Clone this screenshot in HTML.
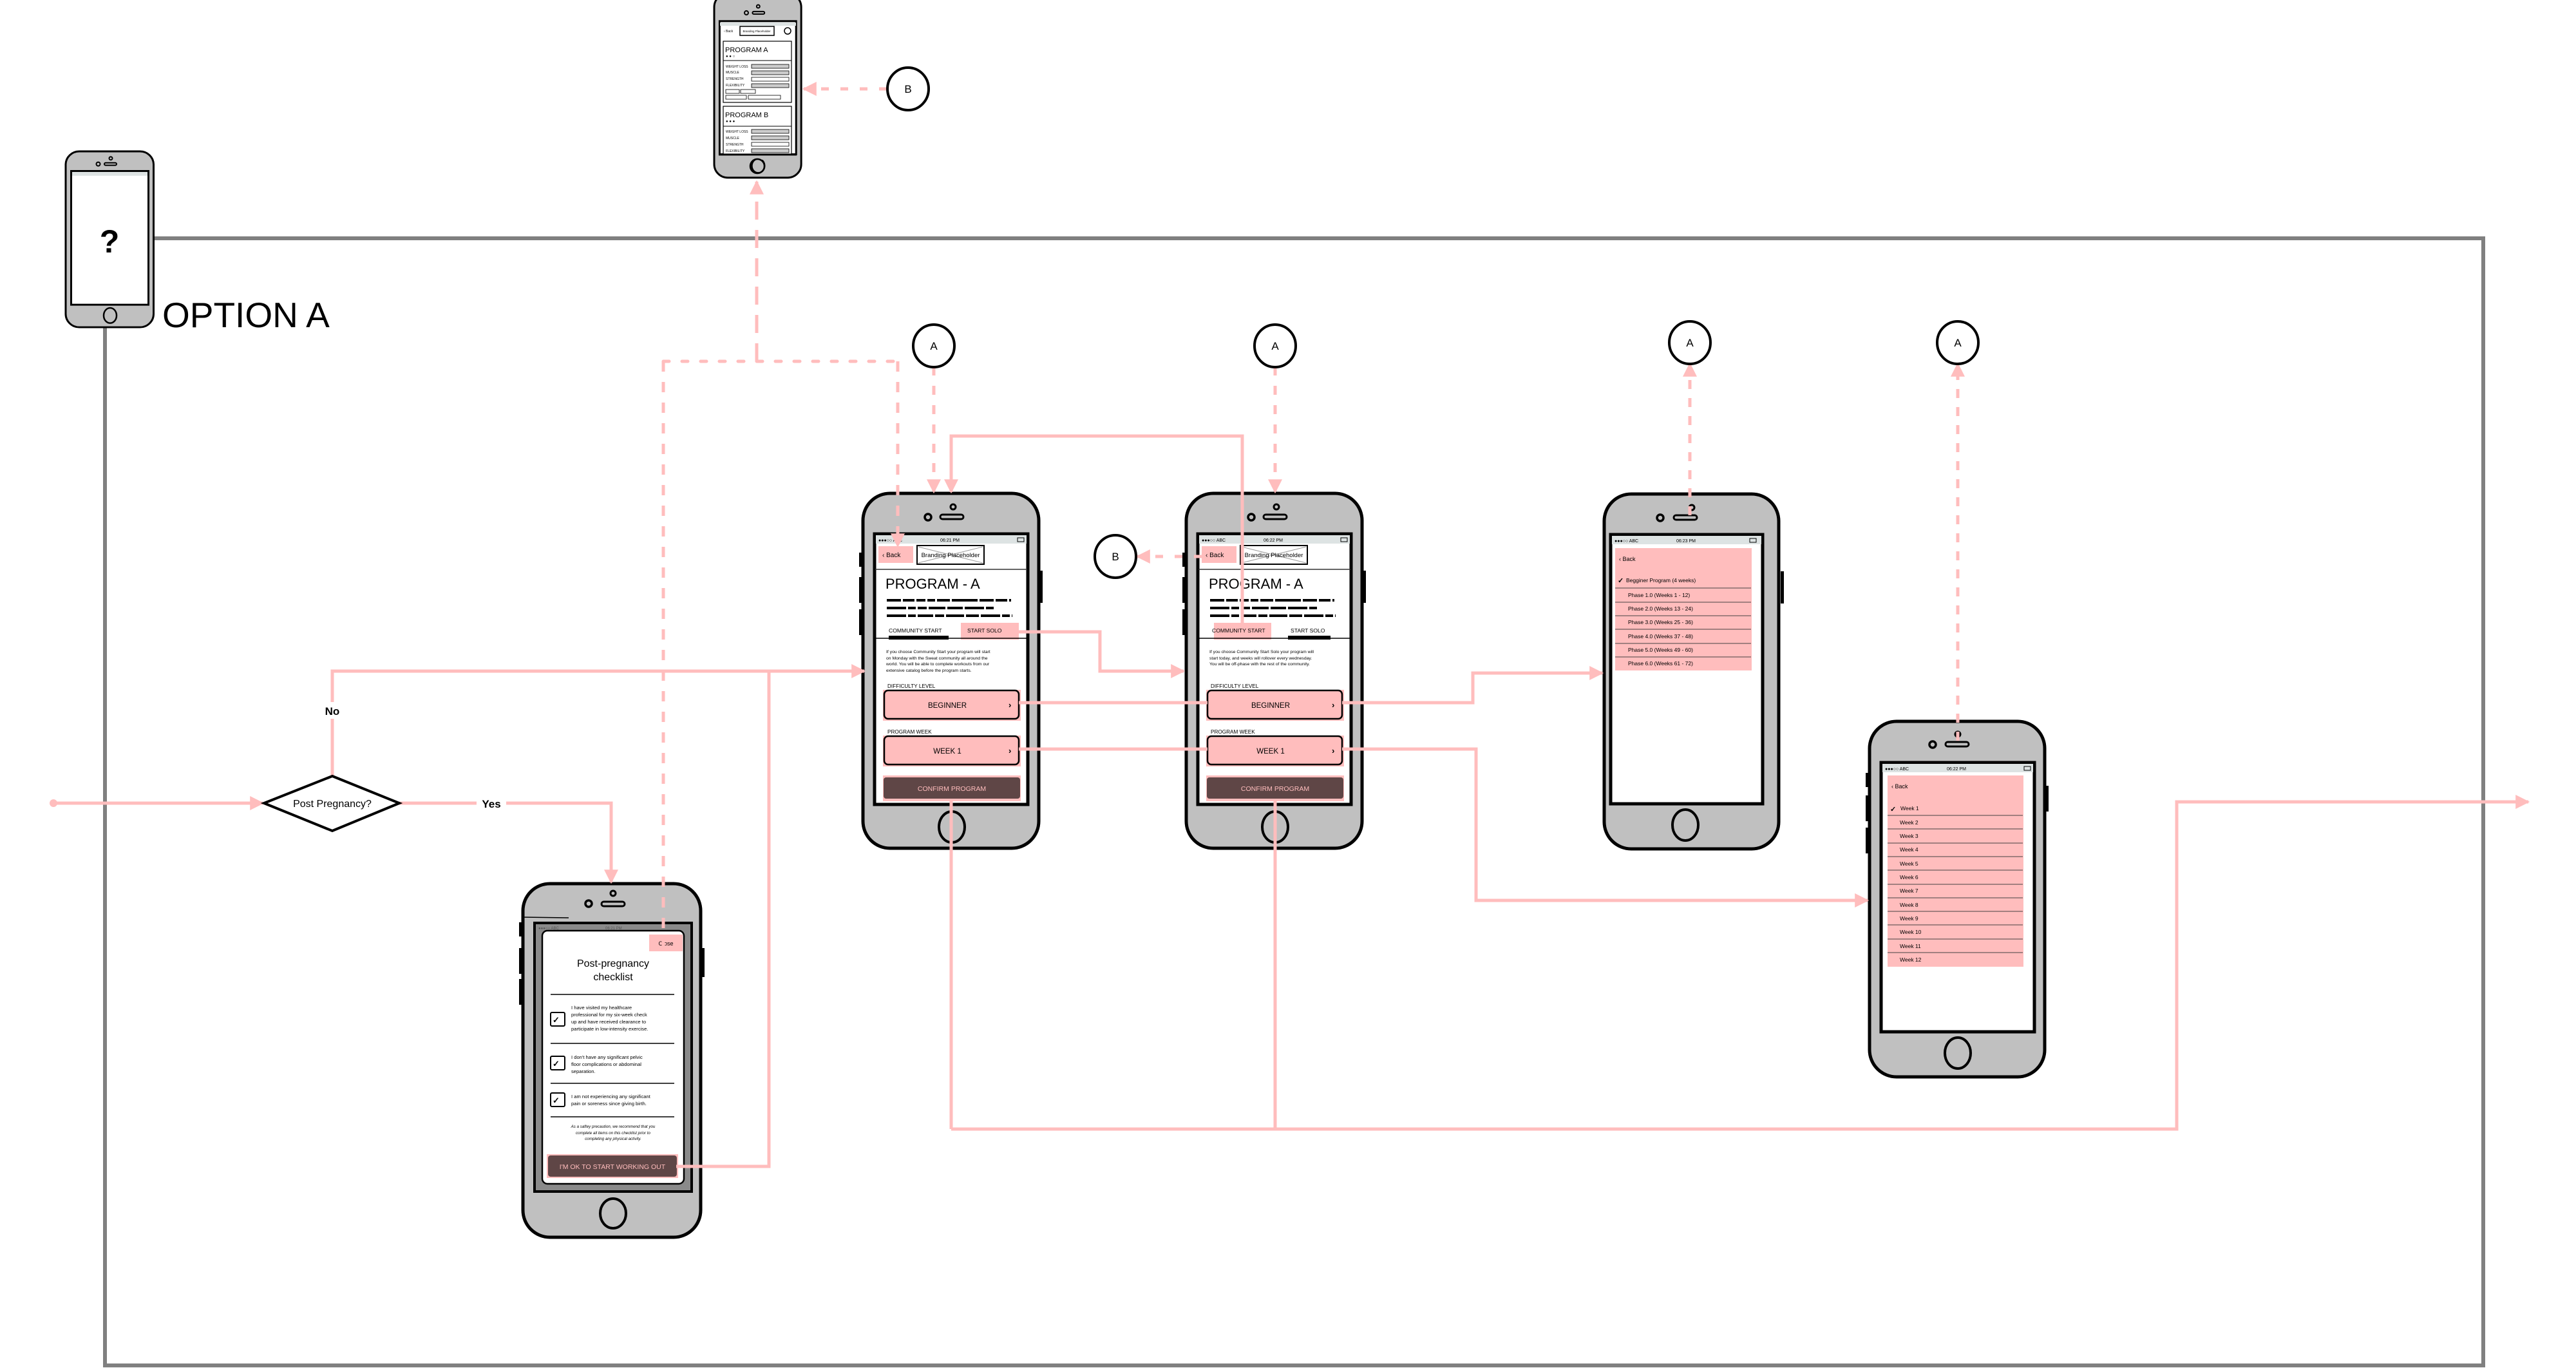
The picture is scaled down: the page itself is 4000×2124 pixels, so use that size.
<!DOCTYPE html>
<html><head><meta charset="utf-8"><style>
html,body{margin:0;padding:0;background:#fff;}
svg{display:block;font-family:"Liberation Sans",sans-serif;}
</style></head><body>
<svg width="4000" height="2124" viewBox="0 0 4000 2124" xmlns="http://www.w3.org/2000/svg">
<defs>
<marker id="ah" viewBox="0 0 10 10" refX="9" refY="5" markerWidth="28" markerHeight="22" markerUnits="userSpaceOnUse" orient="auto"><path d="M0,0 L10,5 L0,10 z" fill="#ffbdbd"/></marker>
</defs>
<rect width="4000" height="2124" fill="#fff"/>

<!-- frame -->
<polyline points="238,370 3856,370 3856,2120 163,2120 163,508" fill="none" stroke="#808080" stroke-width="6"/>
<text x="252" y="508" font-size="55">OPTION A</text>

<!-- top-left phone -->
<g transform="translate(102,235) scale(0.5,0.492)">
<rect x="0" y="0" width="273" height="555" rx="42" fill="#c0c0c0" stroke="#000" stroke-width="6"/>
<circle cx="140" cy="22" r="5" fill="none" stroke="#000" stroke-width="4"/>
<circle cx="101" cy="40" r="6" fill="none" stroke="#000" stroke-width="4"/>
<rect x="120" y="36" width="38" height="8" rx="4" fill="none" stroke="#000" stroke-width="4"/>
<rect x="17" y="62" width="240" height="422" fill="#fff" stroke="#000" stroke-width="6"/>
<rect x="20" y="65" width="234" height="12" fill="#dde3e3"/>
<ellipse cx="138" cy="518" rx="20" ry="24" fill="none" stroke="#000" stroke-width="5"/>
</g>
<text x="170" y="392" font-size="50" font-weight="bold" text-anchor="middle">?</text>

<!-- top phone -->
<g transform="translate(1109,0) scale(0.495,0.497)">
<rect x="0" y="-20" width="273" height="575" rx="42" fill="#c0c0c0" stroke="#000" stroke-width="6"/>
<circle cx="138" cy="20" r="5" fill="none" stroke="#000" stroke-width="4"/>
<circle cx="101" cy="40" r="6" fill="none" stroke="#000" stroke-width="4"/>
<rect x="120" y="36" width="38" height="8" rx="4" fill="none" stroke="#000" stroke-width="4"/>
<rect x="17" y="66" width="240" height="416" fill="#fff" stroke="#000" stroke-width="6"/>
<ellipse cx="138" cy="518" rx="20" ry="22" fill="none" stroke="#000" stroke-width="5"/>
</g>
<g font-size="5">
<rect x="1118" y="35" width="118" height="5" fill="#dde3e3"/>
<text x="1124" y="50">‹ Back</text>
<rect x="1149" y="41" width="53" height="14" fill="#fff" stroke="#000" stroke-width="1.5"/>
<text x="1175" y="50" text-anchor="middle" font-size="4.5">Branding Placeholder</text>
<circle cx="1223" cy="48" r="5" fill="#fff" stroke="#000" stroke-width="1.5"/>
<rect x="1123" y="64" width="106" height="95" fill="#fff" stroke="#000" stroke-width="1.2"/>
<text x="1126" y="81" font-size="11">PROGRAM A</text>
<text x="1127" y="89" font-size="6">● ● ○</text>
<line x1="1123" y1="94" x2="1229" y2="94" stroke="#000" stroke-width="1"/>
<text x="1127" y="105">WEIGHT LOSS</text><rect x="1167" y="100" width="58" height="6" fill="#ccc" stroke="#000" stroke-width="0.8"/>
<text x="1127" y="114">MUSCLE</text><rect x="1167" y="110" width="58" height="6" fill="#ccc" stroke="#000" stroke-width="0.8"/>
<text x="1127" y="124">STRENGTH</text><rect x="1167" y="120" width="58" height="6" fill="#fff" stroke="#000" stroke-width="0.8"/>
<text x="1127" y="134">FLEXIBILITY</text><rect x="1167" y="130" width="58" height="6" fill="#ccc" stroke="#000" stroke-width="0.8"/>
<rect x="1127" y="139" width="21" height="6" fill="#fff" stroke="#000" stroke-width="0.8"/><rect x="1150" y="139" width="23" height="6" fill="#fff" stroke="#000" stroke-width="0.8"/>
<rect x="1127" y="148" width="32" height="6" fill="#fff" stroke="#000" stroke-width="0.8"/><rect x="1162" y="148" width="50" height="6" fill="#fff" stroke="#000" stroke-width="0.8"/>
<rect x="1123" y="165" width="106" height="80" fill="#fff" stroke="#000" stroke-width="1.2"/>
<text x="1126" y="182" font-size="11">PROGRAM B</text>
<text x="1127" y="190" font-size="6">● ● ●</text>
<line x1="1123" y1="196" x2="1229" y2="196" stroke="#000" stroke-width="1"/>
<text x="1127" y="206">WEIGHT LOSS</text><rect x="1167" y="201" width="58" height="6" fill="#ccc" stroke="#000" stroke-width="0.8"/>
<text x="1127" y="216">MUSCLE</text><rect x="1167" y="211" width="58" height="6" fill="#ccc" stroke="#000" stroke-width="0.8"/>
<text x="1127" y="226">STRENGTH</text><rect x="1167" y="221" width="58" height="6" fill="#fff" stroke="#000" stroke-width="0.8"/>
<text x="1127" y="236">FLEXIBILITY</text><rect x="1167" y="231" width="58" height="6" fill="#ccc" stroke="#000" stroke-width="0.8"/>
</g>
<rect x="1117" y="240" width="120" height="8" fill="#c0c0c0"/>
<line x1="1116" y1="240" x2="1237" y2="240" stroke="#000" stroke-width="3"/>
<circle cx="1176" cy="258" r="11" fill="none" stroke="#000" stroke-width="2.5"/>

<!-- Phone A -->
<g transform="translate(1340,766)">
<rect x="0" y="0" width="273" height="551" rx="42" fill="#c0c0c0" stroke="#000" stroke-width="5"/>
<rect x="-6" y="92" width="5" height="22" fill="#000"/><rect x="-6" y="130" width="5" height="40" fill="#000"/><rect x="-6" y="180" width="5" height="40" fill="#000"/><rect x="274" y="120" width="5" height="50" fill="#000"/>
<circle cx="140" cy="21" r="4" fill="none" stroke="#000" stroke-width="3"/>
<circle cx="101" cy="37" r="5" fill="none" stroke="#000" stroke-width="3.5"/>
<rect x="120" y="33" width="36" height="7" rx="3.5" fill="none" stroke="#000" stroke-width="3"/>
<rect x="18" y="63" width="238" height="420" fill="#fff" stroke="#000" stroke-width="5"/>
<rect x="20" y="65" width="234" height="13" fill="#dde3e3"/>
<text x="24" y="75" font-size="7">●●●○○ ABC</text><text x="120" y="75" font-size="7">06:21 PM</text><rect x="240" y="69" width="10" height="6" fill="none" stroke="#000"/>
<rect x="24" y="82" width="54" height="26" fill="#ffbdbd"/>
<text x="30" y="99" font-size="10">‹ Back</text>
<rect x="84" y="81" width="104" height="29" fill="#fff" stroke="#000" stroke-width="2"/>
<line x1="86" y1="83" x2="186" y2="108" stroke="#999"/><line x1="86" y1="108" x2="186" y2="83" stroke="#999"/>
<text x="136" y="99" font-size="9.5" text-anchor="middle">Branding Placeholder</text>
<line x1="19" y1="118" x2="255" y2="118" stroke="#333" stroke-width="1.5"/>
<text x="35" y="148" font-size="22">PROGRAM - A</text>
<g stroke="#000" stroke-width="4"><line x1="37" y1="166" x2="230" y2="166" stroke-dasharray="22 3 18 3 14 3 12 3 20 3 40 3"/><line x1="37" y1="178" x2="205" y2="178" stroke-dasharray="30 3 12 3 14 3 26 3 24 3"/><line x1="37" y1="190" x2="232" y2="190" stroke-dasharray="30 3 12 3 24 3 14 3 28 3 20 3"/></g>
<rect x="152" y="201" width="90" height="26" fill="#ffbdbd"/>
<text x="40" y="216" font-size="8.6">COMMUNITY START</text>
<text x="162" y="216" font-size="8.6">START SOLO</text>
<line x1="19" y1="225" x2="255" y2="225" stroke="#000" stroke-width="1.5"/>
<rect x="40" y="221" width="93" height="6" fill="#000"/>
<g font-size="6.8"><text x="36" y="248">If you choose Community Start your program will start</text><text x="36" y="258">on Monday with the Sweat community all around the</text><text x="36" y="267">world. You will be able to complete workouts from our</text><text x="36" y="277">extensive catalog before the program starts.</text></g>
<text x="38" y="302" font-size="8.2">DIFFICULTY LEVEL</text>
<rect x="31" y="305" width="214" height="48" fill="#ffbdbd"/>
<rect x="33" y="306" width="209" height="44" rx="6" fill="#ffbdbd" stroke="#000" stroke-width="2.5"/>
<text x="131" y="333" font-size="11.5" text-anchor="middle">BEGINNER</text><text x="226" y="333" font-size="13" font-weight="bold">›</text>
<text x="38" y="373" font-size="8.2">PROGRAM WEEK</text>
<rect x="31" y="376" width="214" height="48" fill="#ffbdbd"/>
<rect x="33" y="377" width="209" height="44" rx="6" fill="#ffbdbd" stroke="#000" stroke-width="2.5"/>
<text x="131" y="404" font-size="11.5" text-anchor="middle">WEEK 1</text><text x="226" y="404" font-size="13" font-weight="bold">›</text>
<rect x="31" y="438" width="214" height="40" fill="#ffbdbd"/>
<rect x="32" y="441" width="212" height="33" rx="4" fill="#5f4646"/>
<text x="138" y="462" font-size="10.5" text-anchor="middle" fill="#ffbdbd">CONFIRM PROGRAM</text>
<ellipse cx="138" cy="518" rx="20" ry="24" fill="none" stroke="#000" stroke-width="4"/>
</g>

<!-- Phone B -->
<g transform="translate(1842,766)">
<rect x="0" y="0" width="273" height="551" rx="42" fill="#c0c0c0" stroke="#000" stroke-width="5"/>
<rect x="-6" y="92" width="5" height="22" fill="#000"/><rect x="-6" y="130" width="5" height="40" fill="#000"/><rect x="-6" y="180" width="5" height="40" fill="#000"/><rect x="274" y="120" width="5" height="50" fill="#000"/>
<circle cx="140" cy="21" r="4" fill="none" stroke="#000" stroke-width="3"/>
<circle cx="101" cy="37" r="5" fill="none" stroke="#000" stroke-width="3.5"/>
<rect x="120" y="33" width="36" height="7" rx="3.5" fill="none" stroke="#000" stroke-width="3"/>
<rect x="18" y="63" width="238" height="420" fill="#fff" stroke="#000" stroke-width="5"/>
<rect x="20" y="65" width="234" height="13" fill="#dde3e3"/>
<text x="24" y="75" font-size="7">●●●○○ ABC</text><text x="120" y="75" font-size="7">06:22 PM</text><rect x="240" y="69" width="10" height="6" fill="none" stroke="#000"/>
<rect x="24" y="82" width="54" height="26" fill="#ffbdbd"/>
<text x="30" y="99" font-size="10">‹ Back</text>
<rect x="84" y="81" width="104" height="29" fill="#fff" stroke="#000" stroke-width="2"/>
<line x1="86" y1="83" x2="186" y2="108" stroke="#999"/><line x1="86" y1="108" x2="186" y2="83" stroke="#999"/>
<text x="136" y="99" font-size="9.5" text-anchor="middle">Branding Placeholder</text>
<line x1="19" y1="118" x2="255" y2="118" stroke="#333" stroke-width="1.5"/>
<text x="35" y="148" font-size="22">PROGRAM - A</text>
<g stroke="#000" stroke-width="4"><line x1="37" y1="166" x2="230" y2="166" stroke-dasharray="22 3 18 3 14 3 12 3 20 3 40 3"/><line x1="37" y1="178" x2="205" y2="178" stroke-dasharray="30 3 12 3 14 3 26 3 24 3"/><line x1="37" y1="190" x2="232" y2="190" stroke-dasharray="30 3 12 3 24 3 14 3 28 3 20 3"/></g>
<rect x="43" y="201" width="89" height="26" fill="#ffbdbd"/>
<text x="40" y="216" font-size="8.6">COMMUNITY START</text>
<text x="162" y="216" font-size="8.6">START SOLO</text>
<line x1="19" y1="225" x2="255" y2="225" stroke="#000" stroke-width="1.5"/>
<rect x="158" y="221" width="66" height="6" fill="#000"/>
<g font-size="6.8"><text x="36" y="248">If you choose Community Start Solo your program will</text><text x="36" y="258">start today, and weeks will rollover every wednesday.</text><text x="36" y="267">You will be off-phase with the rest of the community.</text></g>
<text x="38" y="302" font-size="8.2">DIFFICULTY LEVEL</text>
<rect x="31" y="305" width="214" height="48" fill="#ffbdbd"/>
<rect x="33" y="306" width="209" height="44" rx="6" fill="#ffbdbd" stroke="#000" stroke-width="2.5"/>
<text x="131" y="333" font-size="11.5" text-anchor="middle">BEGINNER</text><text x="226" y="333" font-size="13" font-weight="bold">›</text>
<text x="38" y="373" font-size="8.2">PROGRAM WEEK</text>
<rect x="31" y="376" width="214" height="48" fill="#ffbdbd"/>
<rect x="33" y="377" width="209" height="44" rx="6" fill="#ffbdbd" stroke="#000" stroke-width="2.5"/>
<text x="131" y="404" font-size="11.5" text-anchor="middle">WEEK 1</text><text x="226" y="404" font-size="13" font-weight="bold">›</text>
<rect x="31" y="438" width="214" height="40" fill="#ffbdbd"/>
<rect x="32" y="441" width="212" height="33" rx="4" fill="#5f4646"/>
<text x="138" y="462" font-size="10.5" text-anchor="middle" fill="#ffbdbd">CONFIRM PROGRAM</text>
<ellipse cx="138" cy="518" rx="20" ry="24" fill="none" stroke="#000" stroke-width="4"/>
</g>

<!-- Phone C -->
<g transform="translate(2491,767)">
<rect x="0" y="0" width="271" height="551" rx="42" fill="#c0c0c0" stroke="#000" stroke-width="5"/>
<rect x="274" y="120" width="5" height="50" fill="#000"/>
<circle cx="136" cy="21" r="4" fill="none" stroke="#000" stroke-width="3"/>
<circle cx="87" cy="37" r="5" fill="none" stroke="#000" stroke-width="3.5"/>
<rect x="108" y="33" width="36" height="7" rx="3.5" fill="none" stroke="#000" stroke-width="3"/>
<rect x="10" y="63" width="236" height="418" fill="#fff" stroke="#000" stroke-width="5"/>
<rect x="12" y="65" width="232" height="13" fill="#dde3e3"/>
<text x="16" y="75" font-size="7">●●●○○ ABC</text><text x="112" y="75" font-size="7">06:23 PM</text><rect x="226" y="69" width="10" height="6" fill="none" stroke="#000"/>
<rect x="17" y="84" width="212" height="190" fill="#ffbdbd"/>
<text x="23" y="104" font-size="9">‹  Back</text>
<text x="21" y="138" font-size="11" font-weight="bold">✓</text><text x="34" y="137" font-size="8.5">Begginer Program (4 weeks)</text>
<g stroke="#444" stroke-width="1"><line x1="17" y1="146" x2="228" y2="146"/><line x1="17" y1="168" x2="228" y2="168"/><line x1="17" y1="189" x2="228" y2="189"/><line x1="17" y1="210" x2="228" y2="210"/><line x1="17" y1="232" x2="228" y2="232"/><line x1="17" y1="253" x2="228" y2="253"/></g>
<g font-size="8.5"><text x="37" y="160">Phase 1.0 (Weeks 1 - 12)</text><text x="37" y="181">Phase 2.0 (Weeks 13 - 24)</text><text x="37" y="202">Phase 3.0 (Weeks 25 - 36)</text><text x="37" y="224">Phase 4.0 (Weeks 37 - 48)</text><text x="37" y="245">Phase 5.0 (Weeks 49 - 60)</text><text x="37" y="266">Phase 6.0 (Weeks 61 - 72)</text></g>
<ellipse cx="126" cy="514" rx="20" ry="24" fill="none" stroke="#000" stroke-width="4"/>
</g>

<!-- Phone D -->
<g transform="translate(2903,1120)">
<rect x="0" y="0" width="272" height="552" rx="42" fill="#c0c0c0" stroke="#000" stroke-width="5"/>
<rect x="-6" y="80" width="5" height="22" fill="#000"/><rect x="-6" y="115" width="5" height="40" fill="#000"/><rect x="-6" y="165" width="5" height="40" fill="#000"/><rect x="273" y="100" width="5" height="40" fill="#000"/>
<circle cx="137" cy="20" r="4" fill="none" stroke="#000" stroke-width="3"/>
<circle cx="98" cy="36" r="5" fill="none" stroke="#000" stroke-width="3.5"/>
<rect x="118" y="32" width="36" height="7" rx="3.5" fill="none" stroke="#000" stroke-width="3"/>
<rect x="18" y="64" width="238" height="418" fill="#fff" stroke="#000" stroke-width="5"/>
<rect x="20" y="66" width="234" height="13" fill="#dde3e3"/>
<text x="24" y="76" font-size="7">●●●○○ ABC</text><text x="120" y="76" font-size="7">06:22 PM</text><rect x="240" y="70" width="10" height="6" fill="none" stroke="#000"/>
<rect x="28" y="84" width="211" height="297" fill="#ffbdbd"/>
<text x="34" y="104" font-size="9">‹  Back</text>
<text x="32" y="140" font-size="11" font-weight="bold">✓</text><text x="48" y="138" font-size="8.5">Week 1</text>
<g stroke="#444" stroke-width="1">
<line x1="28" y1="146" x2="238" y2="146"/><line x1="28" y1="167" x2="238" y2="167"/><line x1="28" y1="189" x2="238" y2="189"/><line x1="28" y1="210" x2="238" y2="210"/><line x1="28" y1="231" x2="238" y2="231"/><line x1="28" y1="253" x2="238" y2="253"/><line x1="28" y1="274" x2="238" y2="274"/><line x1="28" y1="295" x2="238" y2="295"/><line x1="28" y1="316" x2="238" y2="316"/><line x1="28" y1="338" x2="238" y2="338"/><line x1="28" y1="359" x2="238" y2="359"/></g>
<g font-size="8.5"><text x="47" y="160">Week 2</text><text x="47" y="181">Week 3</text><text x="47" y="202">Week 4</text><text x="47" y="224">Week 5</text><text x="47" y="245">Week 6</text><text x="47" y="266">Week 7</text><text x="47" y="288">Week 8</text><text x="47" y="309">Week 9</text><text x="47" y="330">Week 10</text><text x="47" y="352">Week 11</text><text x="47" y="373">Week 12</text></g>
<ellipse cx="137" cy="515" rx="20" ry="24" fill="none" stroke="#000" stroke-width="4"/>
</g>

<!-- Checklist phone -->
<g transform="translate(812,1372)">
<rect x="0" y="0" width="276" height="549" rx="42" fill="#c0c0c0" stroke="#000" stroke-width="5"/>
<rect x="-6" y="60" width="5" height="22" fill="#000"/><rect x="-6" y="100" width="5" height="40" fill="#000"/><rect x="-6" y="148" width="5" height="40" fill="#000"/><rect x="277" y="100" width="5" height="45" fill="#000"/>
<circle cx="140" cy="15" r="4" fill="none" stroke="#000" stroke-width="3"/>
<circle cx="102" cy="31" r="5" fill="none" stroke="#000" stroke-width="3.5"/>
<rect x="122" y="28" width="36" height="7" rx="3.5" fill="none" stroke="#000" stroke-width="3"/>
<line x1="-2" y1="52" x2="71" y2="53" stroke="#000" stroke-width="1.5"/>
<rect x="18" y="61" width="244" height="417" fill="#8a8a8a" stroke="#000" stroke-width="4"/>
<text x="24" y="71" font-size="6" fill="#555">●●●○○ ABC</text><text x="128" y="71" font-size="6" fill="#555">06:21 PM</text>
<rect x="30" y="73" width="220" height="393" rx="8" fill="#fff" stroke="#000" stroke-width="2.5"/>
<rect x="196" y="79" width="52" height="26" fill="#ffbdbd"/>
<text x="222" y="96" font-size="9" text-anchor="middle">Close</text>
<text x="140" y="129" font-size="16" text-anchor="middle">Post-pregnancy</text>
<text x="140" y="150" font-size="16" text-anchor="middle">checklist</text>
<g stroke="#000" stroke-width="1.5"><line x1="43" y1="172" x2="235" y2="172"/><line x1="43" y1="248" x2="235" y2="248"/><line x1="43" y1="310" x2="235" y2="310"/><line x1="43" y1="362" x2="235" y2="362"/></g>
<g fill="#fff" stroke="#000" stroke-width="2"><rect x="43" y="200" width="22" height="21" rx="2"/><rect x="43" y="268" width="22" height="21" rx="2"/><rect x="43" y="325" width="22" height="21" rx="2"/></g>
<g font-size="13" font-weight="bold"><text x="46" y="216">✓</text><text x="46" y="284">✓</text><text x="46" y="341">✓</text></g>
<g font-size="7.6"><text x="75" y="195">I have visited my healthcare</text><text x="75" y="206">professional for my six-week check</text><text x="75" y="217">up and have received clearance to</text><text x="75" y="228">participate in low-intensity exercise.</text>
<text x="75" y="272">I don't have any significant pelvic</text><text x="75" y="283">floor complications or abdominal</text><text x="75" y="294">separation.</text>
<text x="75" y="333">I am not experiencing any significant</text><text x="75" y="344">pain or soreness since giving birth.</text></g>
<g font-size="6.2" font-style="italic" text-anchor="middle"><text x="140" y="379">As a saftey precaution, we recommend that you</text><text x="140" y="389">complete all items on this checklist prior to</text><text x="140" y="398">completing any physical activity.</text></g>
<rect x="37" y="420" width="204" height="37" fill="#ffbdbd"/>
<rect x="39" y="422" width="200" height="33" rx="4" fill="#5f4646"/>
<text x="139" y="443" font-size="10.5" text-anchor="middle" fill="#ffbdbd">I'M OK TO START WORKING OUT</text>
<ellipse cx="140" cy="512" rx="20" ry="23" fill="none" stroke="#000" stroke-width="4"/>
</g>

<!-- Connectors (solid) -->
<g fill="none" stroke="#ffbdbd" stroke-width="5">
<circle cx="83" cy="1247" r="6" fill="#ffbdbd" stroke="none"/>
<line x1="83" y1="1247" x2="408" y2="1247" marker-end="url(#ah)"/>
<polyline points="516,1205 516,1042 1342,1042" marker-end="url(#ah)"/>
<polyline points="620,1247 949,1247 949,1370" marker-end="url(#ah)"/>
<polyline points="1050,1811 1194,1811 1194,1042"/>
<polyline points="1582,981 1708,981 1708,1042 1838,1042" marker-end="url(#ah)"/>
<polyline points="1929,967 1929,677 1477,677 1477,764" marker-end="url(#ah)"/>
<line x1="1582" y1="1091" x2="1875" y2="1091"/>
<polyline points="2084,1091 2287,1091 2287,1045 2488,1045" marker-end="url(#ah)"/>
<line x1="1582" y1="1163" x2="1875" y2="1163"/>
<polyline points="2084,1163 2292,1163 2292,1398 2900,1398" marker-end="url(#ah)"/>
<line x1="1477" y1="1240" x2="1477" y2="1753"/>
<line x1="1980" y1="1240" x2="1980" y2="1753"/>
<polyline points="1477,1753 3380,1753 3380,1245 3926,1245" marker-end="url(#ah)"/>
</g>
<rect x="496" y="1090" width="40" height="26" fill="#fff"/>
<text x="516" y="1110" font-size="17" font-weight="bold" text-anchor="middle">No</text>
<rect x="740" y="1234" width="46" height="26" fill="#fff"/>
<text x="763" y="1254" font-size="17" font-weight="bold" text-anchor="middle">Yes</text>

<!-- decision -->
<polygon points="516,1205 620,1247 516,1290 410,1247" fill="#fff" stroke="#000" stroke-width="4"/>
<text x="516" y="1253" font-size="16" text-anchor="middle">Post Pregnancy?</text>

<!-- dashed connectors -->
<g fill="none" stroke="#ffbdbd" stroke-width="5">
<line x1="1175" y1="561" x2="1175" y2="282" stroke-dasharray="28 16" marker-end="url(#ah)"/>
<line x1="1030" y1="561" x2="1390" y2="561" stroke-dasharray="9 20" stroke-linecap="round"/>
<line x1="1030" y1="561" x2="1030" y2="1470" stroke-dasharray="16 16"/>
<line x1="1394" y1="561" x2="1394" y2="848" stroke-dasharray="16 16" marker-end="url(#ah)"/>
<line x1="1450" y1="569" x2="1450" y2="764" stroke-dasharray="14 16" marker-end="url(#ah)"/>
<line x1="1980" y1="569" x2="1980" y2="764" stroke-dasharray="14 16" marker-end="url(#ah)"/>
<line x1="1866" y1="864" x2="1766" y2="864" stroke-dasharray="12 18" marker-end="url(#ah)"/>
<line x1="1377" y1="138" x2="1248" y2="138" stroke-dasharray="12 18" marker-end="url(#ah)"/>
<line x1="2624" y1="800" x2="2624" y2="565" stroke-dasharray="14 14" marker-end="url(#ah)"/>
<line x1="3040" y1="1150" x2="3040" y2="565" stroke-dasharray="14 14" marker-end="url(#ah)"/>
</g>

<!-- circles -->
<g fill="#fff" stroke="#000" stroke-width="4">
<ellipse cx="1410" cy="138" rx="32" ry="33"/>
<ellipse cx="1732" cy="864" rx="32" ry="33"/>
<ellipse cx="1450" cy="537" rx="32" ry="33"/>
<ellipse cx="1980" cy="537" rx="32" ry="33"/>
<ellipse cx="2624" cy="532" rx="32" ry="33"/>
<ellipse cx="3040" cy="532" rx="32" ry="33"/>
</g>
<g font-size="17" text-anchor="middle">
<text x="1410" y="144">B</text><text x="1732" y="870">B</text>
<text x="1450" y="543">A</text><text x="1980" y="543">A</text><text x="2624" y="538">A</text><text x="3040" y="538">A</text>
</g>
</svg>
</body></html>
